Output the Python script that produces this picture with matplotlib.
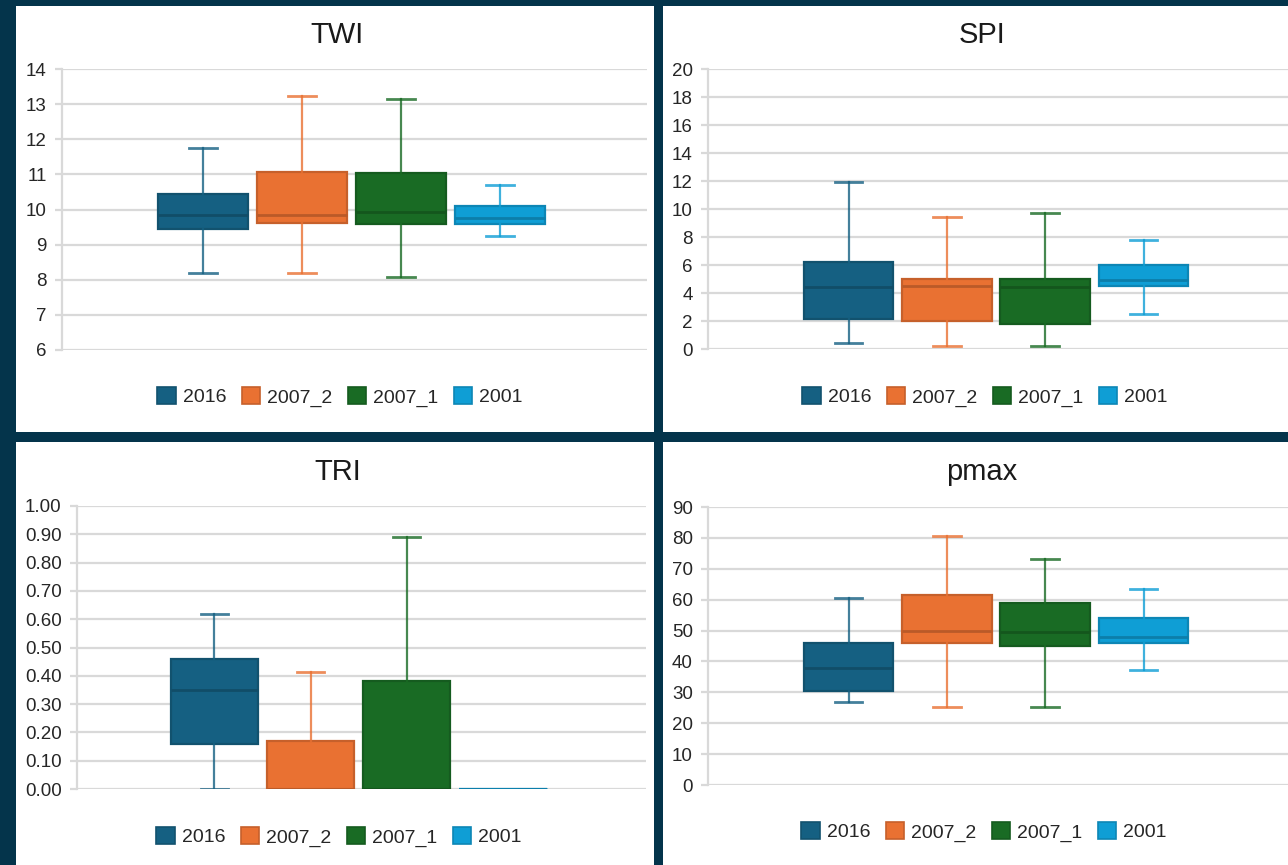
import numpy as np
import matplotlib.pyplot as plt
from matplotlib.patches import Patch
from matplotlib.colors import to_rgb

plt.rcParams['font.family'] = ['Liberation Sans', 'DejaVu Sans']

# ---------------------------------------------------------------------------
# data: whisker low, q1, median, q3, whisker high
# ---------------------------------------------------------------------------
series = ['2016', '2007_2', '2007_1', '2001']
colors = ['#156082', '#E97132', '#196B24', '#0F9ED5']

twi_low = [8.20, 8.18, 8.08, 9.25]
twi_q1 = [9.45, 9.62, 9.60, 9.60]
twi_med = [9.85, 9.85, 9.92, 9.75]
twi_q3 = [10.45, 11.08, 11.03, 10.10]
twi_high = [11.75, 13.22, 13.15, 10.70]

spi_low = [0.40, 0.20, 0.20, 2.50]
spi_q1 = [2.15, 2.00, 1.80, 4.50]
spi_med = [4.45, 4.50, 4.45, 4.90]
spi_q3 = [6.25, 5.00, 5.00, 6.00]
spi_high = [11.90, 9.40, 9.75, 7.80]

tri_low = [0.00, 0.00, 0.00, 0.00]
tri_q1 = [0.16, 0.00, 0.00, 0.00]
tri_med = [0.35, 0.00, 0.00, 0.00]
tri_q3 = [0.46, 0.17, 0.38, 0.00]
tri_high = [0.62, 0.415, 0.89, 0.00]

pmax_low = [27.0, 25.3, 25.3, 37.3]
pmax_q1 = [30.5, 46.0, 45.0, 46.0]
pmax_med = [38.0, 50.0, 49.5, 48.0]
pmax_q3 = [46.0, 61.5, 59.0, 54.0]
pmax_high = [60.5, 80.5, 73.3, 63.3]

W, H = 1288, 865
BG = '#04344B'
GRID = '#d9d9d9'


def shade(c, f):
    r, g, b = to_rgb(c)
    return (r * f, g * f, b * f)


def px_axes(fig, left, top, right, bottom):
    return fig.add_axes([left / W, 1 - bottom / H, (right - left) / W, (bottom - top) / H])


def draw_panel(fig, rect, title, title_xy, legend_xy, low, q1, med, q3, high,
               ylim, yticks, fmt):
    ax = px_axes(fig, *rect)
    stats = []
    for i in range(len(series)):
        stats.append(dict(whislo=low[i], q1=q1[i], med=med[i], q3=q3[i],
                          whishi=high[i], fliers=[], label=series[i]))
    pos = np.arange(len(series))
    for i, s in enumerate(stats):
        c = colors[i]
        ax.bxp([s], positions=[pos[i]], widths=0.91, patch_artist=True,
               showfliers=False, manage_ticks=False,
               boxprops=dict(facecolor=c, edgecolor=shade(c, 0.85), lw=1.6),
               medianprops=dict(color=shade(c, 0.8), lw=2.0),
               whiskerprops=dict(color=c, lw=1.6, alpha=0.8),
               capprops=dict(color=c, lw=2.0, alpha=0.8),
               capwidths=0.28)
    ax.set_xlim(-1.43, 4.49)
    ax.set_ylim(ylim)
    ax.set_yticks(yticks)
    ax.set_yticklabels([fmt.format(v) for v in yticks])
    ax.set_xticks([])
    ax.set_axisbelow(True)
    ax.yaxis.grid(True, color=GRID, lw=1.6)
    for sp in ['top', 'right', 'bottom']:
        ax.spines[sp].set_visible(False)
    ax.spines['left'].set_color(GRID)
    ax.spines['left'].set_linewidth(1.6)
    ax.tick_params(axis='y', length=5, width=1.6, color=GRID, pad=6,
                   labelsize=13.5, labelcolor='#262626')
    ax.patch.set_alpha(0)

    fig.text(title_xy[0] / W, 1 - title_xy[1] / H, title, ha='center',
             va='baseline', fontsize=21, color='#1a1a1a')
    handles = [Patch(facecolor=c, edgecolor=shade(c, 0.85), lw=1.2) for c in colors]
    fig.legend(handles, series, loc='center',
               bbox_to_anchor=(legend_xy[0] / W, 1 - legend_xy[1] / H),
               ncol=4, frameon=False, fontsize=14, handlelength=0.95,
               handleheight=0.95, handletextpad=0.35, columnspacing=0.8,
               borderpad=0, labelcolor='#262626')
    return ax


fig = plt.figure(figsize=(W / 100, H / 100), dpi=100, facecolor=BG)

# white panel backgrounds
for l, t, r, b in [(16, 6, 654, 432), (663, 6, 1288, 432),
                   (16, 442, 654, 865), (663, 442, 1288, 865)]:
    bg = px_axes(fig, l, t, r, b)
    bg.set_facecolor('white')
    bg.set_xticks([])
    bg.set_yticks([])
    for sp in bg.spines.values():
        sp.set_visible(False)

draw_panel(fig, (62, 69, 647, 350), 'TWI', (337, 43), (340, 397),
           twi_low, twi_q1, twi_med, twi_q3, twi_high,
           (6, 14), list(range(6, 15)), '{:d}')
draw_panel(fig, (708, 69, 1290, 349), 'SPI', (982, 43), (985, 397),
           spi_low, spi_q1, spi_med, spi_q3, spi_high,
           (0, 20), list(range(0, 21, 2)), '{:d}')
draw_panel(fig, (77, 506, 646, 789), 'TRI', (338, 480), (339, 837),
           tri_low, tri_q1, tri_med, tri_q3, tri_high,
           (0, 1.0), [round(0.1 * k, 1) for k in range(11)], '{:.2f}')
draw_panel(fig, (708, 507, 1290, 785), 'pmax', (982, 480), (984, 832),
           pmax_low, pmax_q1, pmax_med, pmax_q3, pmax_high,
           (0, 90), list(range(0, 91, 10)), '{:d}')

plt.savefig('out.png', dpi=100, facecolor=BG)
